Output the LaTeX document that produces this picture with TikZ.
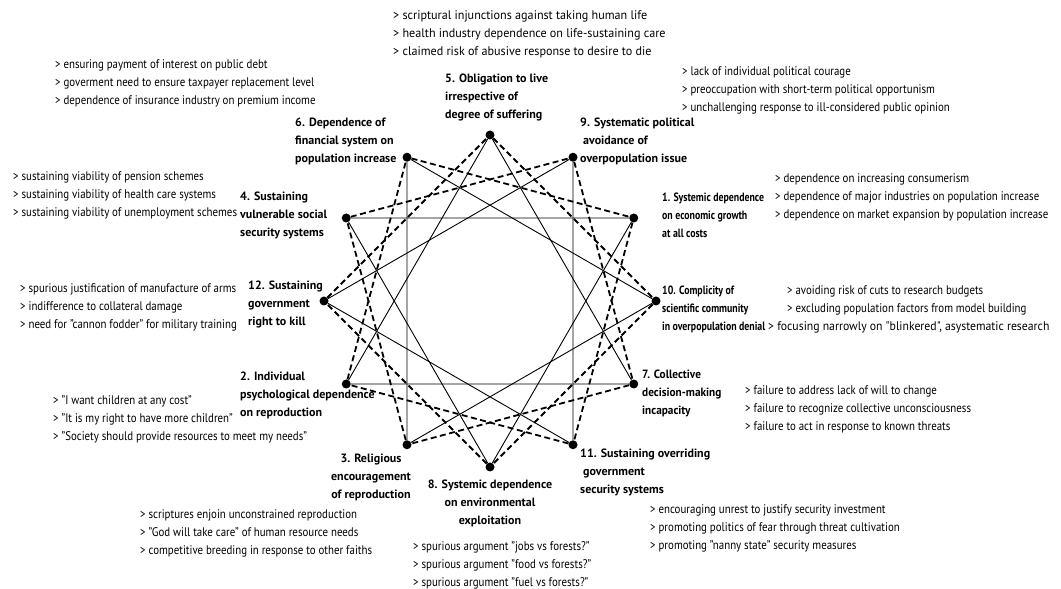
\documentclass[tikz,border=0pt]{standalone}
\usepackage{fontspec}
\setmainfont{PT Sans}[FakeStretch=0.87,BoldFeatures={FakeStretch=1.0}]
\newfontfamily\tightfont{PT Sans}[FakeStretch=0.82]
\newfontfamily\midfont{PT Sans}[FakeStretch=0.94]
\newfontfamily\widefont{PT Sans}[FakeStretch=0.97]
\usetikzlibrary{positioning}
\tikzset{
	cause diagram/.style={x=1pt,y=1pt,line join=round},
	hub/.style={circle,fill=black,inner sep=0pt,minimum size=9pt},
	tie/.style={draw,line width=0.9pt},
	dashtie/.style={draw,line width=1.8pt,dash pattern=on 6pt off 3.5pt},
	cause/.style={font=\bfseries\fontsize{12}{18}\selectfont,align=left,inner sep=0pt,anchor=west},
	tight cause/.style={cause,font=\tightfont\bfseries\fontsize{12}{18}\selectfont},
	mid cause/.style={cause,font=\midfont\bfseries\fontsize{12}{18}\selectfont},
	effects/.style={font=\fontsize{12.5}{18}\selectfont,align=left,inner sep=0pt,anchor=west},
	wide effects/.style={effects,font=\widefont\fontsize{12.5}{18}\selectfont}
}
\begin{document}
\begin{tikzpicture}[cause diagram]
	\useasboundingbox (0,0) rectangle (1061,589);
	% the twelve issues on the ring
	\begin{scope}[shift={(490,288)}]
		\foreach \n/\a in {5/90,9/60,1/30,10/0,7/-30,11/-60,8/-90,3/-120,2/-150,12/180,4/150,6/120}
			\node[hub] (p\n) at (\a:166) {};
	\end{scope}
	% solid triangles
	\foreach \a/\b/\c in {5/2/7,9/12/11,1/4/8,10/6/3}
		\draw[tie] (p\a) -- (p\b) -- (p\c) -- (p\a);
	% dashed squares
	\foreach \a/\b/\c/\d in {5/10/8/12,9/7/3/4,1/11/2/6}
		\draw[dashtie] (p\a) -- (p\b) -- (p\c) -- (p\d) -- (p\a);
	% issue titles
	\node[cause] (t5) at (445,491.5) {5. Obligation to live\\irrespective of\\degree of suffering};
	\node[cause] (t9) at (580,448) {9. Systematic political\\\hspace*{3pt}avoidance of\\overpopulation issue};
	\node[tight cause] (t1) at (662,374) {1. Systemic dependence\\on economic growth\\at all costs};
	\node[tight cause] (t10) at (662,280) {10. Complicity of\\scientific community\\in overpopulation denial};
	\node[mid cause] (t7) at (642,196) {7. Collective\\decision-making\\incapacity};
	\node[cause] (t11) at (580,117) {11. Sustaining overriding\\\hspace*{3pt}government\\security systems};
	\node[cause,align=center,anchor=center] (t8) at (490,86) {8. Systemic dependence\\on environmental\\exploitation};
	\node[cause,align=center,anchor=center] (t3) at (371,112) {3. Religious\\encouragement\\of reproduction};
	\node[cause] (t2) at (240,194) {2. Individual\\psychological dependence\\on reproduction};
	\node[cause] (t12) at (248,285) {12. Sustaining\\government\\right to kill};
	\node[cause] (t4) at (240,374) {4. Sustaining\\vulnerable social\\security systems};
	\node[cause] (t6) at (295,448) {6. Dependence of\\financial system on\\population increase};
	% contributing factors
	\node[wide effects] (f5) at (393,555) {> scriptural injunctions against taking human life\\> health industry dependence on life-sustaining care\\> claimed risk of abusive response to desire to die};
	\node[effects] (f6) at (55,506) {> ensuring payment of interest on public debt\\> goverment need to ensure taxpayer replacement level\\> dependence of insurance industry on premium income};
	\node[effects] (f9) at (682,499) {> lack of individual political courage\\> preoccupation with short-term political opportunism\\> unchallenging response to ill-considered public opinion};
	\node[effects] (f1) at (775,392) {> dependence on increasing consumerism\\> dependence of major industries on population increase\\> dependence on market expansion by population increase};
	\node[effects] (f4) at (13,394) {> sustaining viability of pension schemes\\> sustaining viability of health care systems\\> sustaining viability of unemployment schemes};
	\node[effects] (f10) at (787,280) {> avoiding risk of cuts to research budgets\\> excluding population factors from model building\\\hspace*{-19pt}{\midfont > focusing narrowly on "blinkered", asystematic research}};
	\node[effects] (f12) at (20,282) {> spurious justification of manufacture of arms\\> indifference to collateral damage\\> need for "cannon fodder" for military training};
	\node[effects] (f2) at (53,170) {> "I want children at any cost"\\> "It is my right to have more children"\\> "Society should provide resources to meet my needs"};
	\node[effects] (f7) at (745,180) {> failure to address lack of will to change\\> failure to recognize collective unconsciousness\\> failure to act in response to known threats};
	\node[effects] (f3) at (140,56) {> scriptures enjoin unconstrained reproduction\\> "God will take care" of human resource needs\\> competitive breeding in response to other faiths};
	\node[effects] (f8) at (413,24) {> spurious argument "jobs vs forests?"\\> spurious argument "food vs forests?"\\> spurious argument "fuel vs forests?"};
	\node[effects] (f11) at (650,61) {> encouraging unrest to justify security investment\\> promoting politics of fear through threat cultivation\\> promoting "nanny state" security measures};
\end{tikzpicture}
\end{document}
